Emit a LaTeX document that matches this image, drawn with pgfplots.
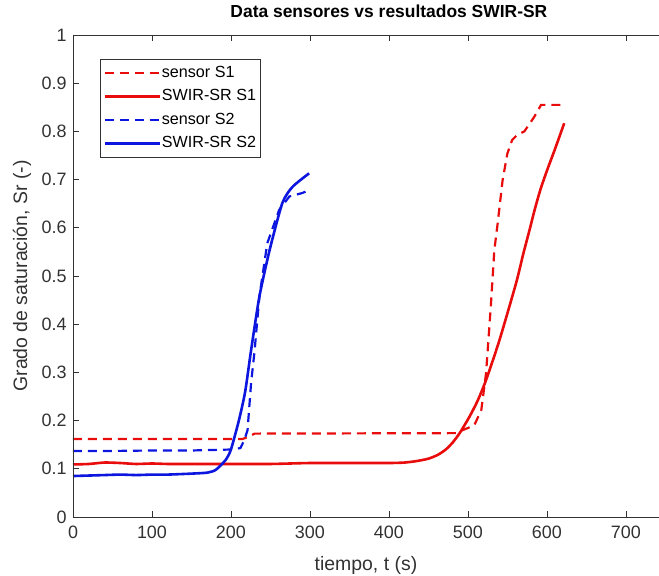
\documentclass[border=0pt]{standalone}
\usepackage{fontspec}
\setmainfont{Liberation Sans}
\usepackage{pgfplots}
\pgfplotsset{compat=1.18}
\definecolor{mred}{RGB}{232,12,12}
\definecolor{mblue}{RGB}{12,22,222}
\definecolor{axgray}{RGB}{50,50,50}
\begin{document}
\begin{tikzpicture}
\begin{axis}[name=ax, scale only axis, width=631.8bp, height=482bp,
  xmin=0, xmax=800, ymin=0, ymax=1,
  xtick={0,100,200,300,400,500,600,700},
  ytick={0,0.1,0.2,0.3,0.4,0.5,0.6,0.7,0.8,0.9,1},
  yticklabels={0,0.1,0.2,0.3,0.4,0.5,0.6,0.7,0.8,0.9,1},
  /pgf/number format/assume math mode=true,
  axis line style={draw=none},
  tick style={axgray, line width=0.6bp},
  major tick length=6bp,
  ytick pos=left,
  tick label style={font=\fontsize{18}{21}\selectfont, text=axgray},
  xticklabel style={yshift=-5bp},
  yticklabel style={xshift=-3bp},
  title={Data sensores vs resultados SWIR-SR},
  title style={font=\fontsize{17.5}{20}\selectfont\bfseries, text=black, at={(axis description cs:0.5,1.036)}, anchor=center},
  xlabel={tiempo, t (s)},
  ylabel={Grado de saturación, Sr (-)},
  label style={font=\fontsize{19.5}{22}\selectfont, text=axgray},
  xlabel style={at={(axis description cs:0.4637,-0.1)}, anchor=center},
  ylabel style={at={(axis description cs:-0.0807,0.5)}, anchor=center},
  legend cell align=left,
  legend image code/.code={\draw[#1] (0bp,0bp) -- (55bp,0bp);},
  legend style={at={(axis description cs:0.0427,0.9502)}, anchor=north west,
    draw=axgray, line width=0.6bp, font=\fontsize{16.2}{18}\selectfont, text=black,
    inner xsep=3bp, inner ysep=5bp, row sep=6.5bp, column sep=0bp,
    nodes={inner sep=1bp, text height=12bp, text depth=3bp}},
]
% sensor S1
\addplot[mred, line width=2.2bp, dash pattern=on 9bp off 6bp] coordinates {
(0,0.162) (215,0.162) (223,0.167) (230,0.173) (485,0.174) (493,0.180)
(508,0.190) (517,0.222) (523,0.298) (529,0.436) (533.5,0.554) (537.7,0.609)
(544,0.699) (550,0.754) (556,0.782) (562,0.792) (571.5,0.800) (584,0.830) (592.7,0.855) (622,0.855)};
\addlegendentry{sensor S1}
% SWIR-SR S1
\addplot[mred, line width=2.6bp, smooth, tension=0.4] coordinates {
(0,0.109) (20,0.110) (40,0.113) (60,0.112) (80,0.110) (100,0.111) (120,0.110)
(150,0.110) (200,0.110) (250,0.110) (300,0.112) (350,0.112) (400,0.112)
(420,0.113) (435,0.116) (450,0.121) (462,0.129) (472,0.140) (481,0.155)
(490,0.175) (502,0.208) (512,0.240) (523,0.284) (540,0.367) (561,0.485)
(570,0.545) (578,0.595) (585,0.640) (592,0.680) (600,0.718) (610,0.762) (622,0.817)};
\addlegendentry{SWIR-SR S1}
% sensor S2
\addplot[mblue, line width=2.2bp, dash pattern=on 9bp off 6bp] coordinates {
(0,0.137) (50,0.137) (100,0.138) (150,0.138) (200,0.140) (212,0.143)
(217,0.160) (221,0.180) (225.5,0.278) (230,0.346) (236,0.457) (246,0.568)
(261,0.637) (274,0.665) (290,0.672) (299,0.678)};
\addlegendentry{sensor S2}
% SWIR-SR S2
\addplot[mblue, line width=2.6bp, smooth, tension=0.4] coordinates {
(0,0.085) (20,0.086) (40,0.087) (60,0.088) (80,0.087) (100,0.088) (120,0.088)
(150,0.090) (170,0.092) (180,0.097) (187,0.107) (194,0.120) (200,0.140)
(210,0.200) (218,0.260) (225.5,0.346) (236,0.457) (249,0.554) (265,0.651)
(278,0.685) (299,0.713)};
\addlegendentry{SWIR-SR S2}
\end{axis}
\draw[axgray, line width=0.6bp] (ax.north east) -- (ax.north west) -- (ax.south west) -- (ax.south east);
\pgfresetboundingbox
\path[use as bounding box] ([xshift=-73bp,yshift=-59bp]ax.south west) rectangle ([xshift=586bp,yshift=35bp]ax.north west);
\end{tikzpicture}
\end{document}
